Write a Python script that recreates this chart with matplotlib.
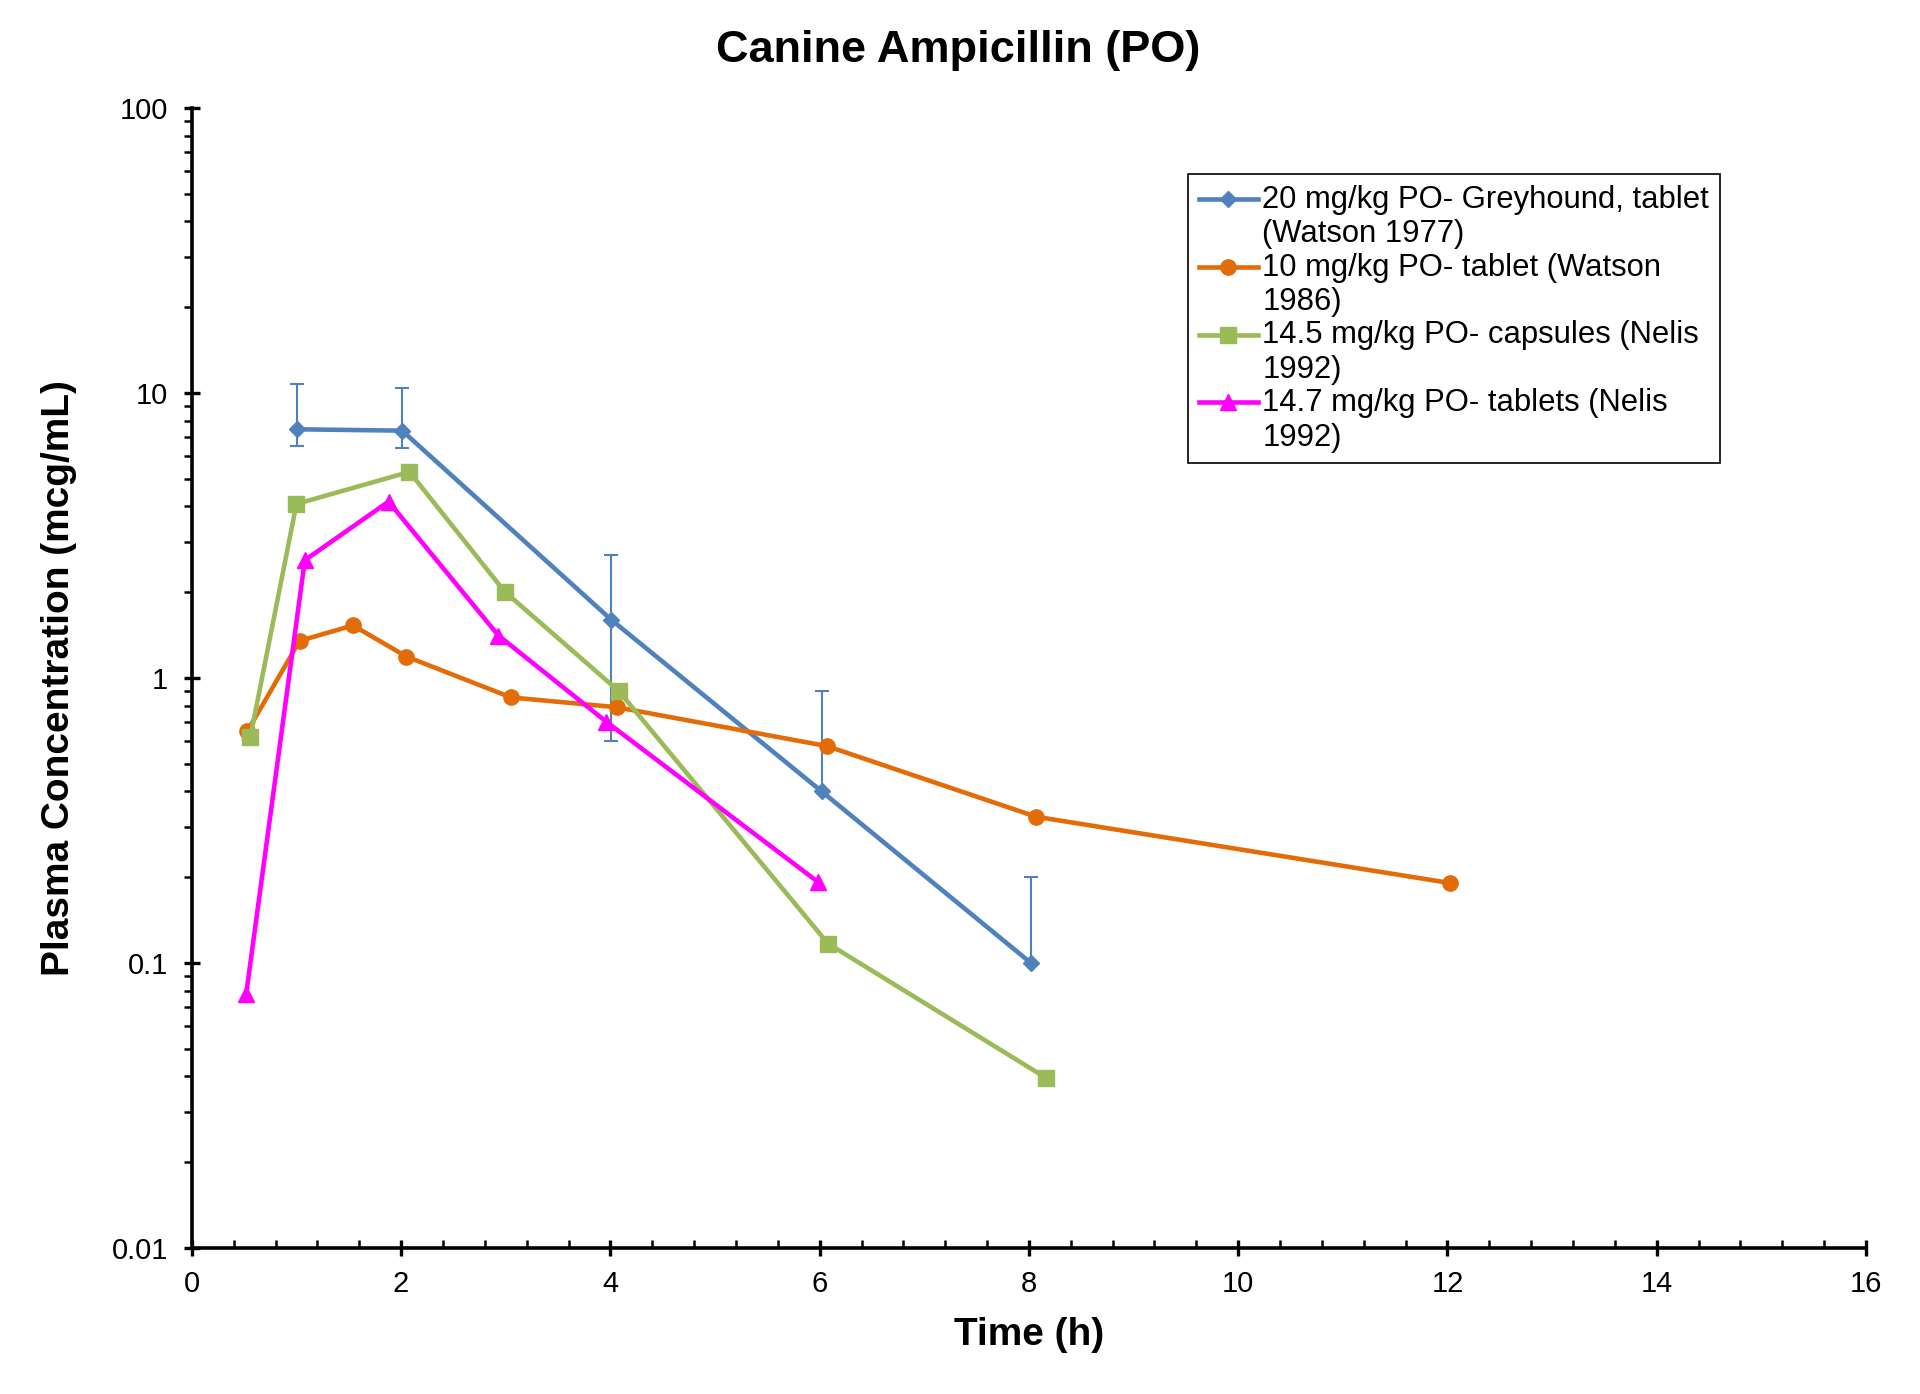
import numpy as np
import matplotlib
matplotlib.use('Agg')
import matplotlib.pyplot as plt
from matplotlib.ticker import MultipleLocator, LogLocator, FixedLocator, FuncFormatter, NullFormatter
from matplotlib.legend_handler import HandlerLine2D

plt.rcParams['font.family'] = ['Liberation Sans', 'DejaVu Sans']

# --- data ---
grey_t = [1.01, 2.01, 4.01, 6.02, 8.02]
grey_c = [7.46, 7.38, 1.60, 0.40, 0.10]
grey_hi = [10.8, 10.4, 2.70, 0.90, 0.20]
grey_lo = [6.52, 6.40, 0.60, 0.40, 0.10]

w86_t = [0.53, 1.03, 1.54, 2.05, 3.05, 4.06, 6.07, 8.07, 12.02]
w86_c = [0.65, 1.35, 1.53, 1.19, 0.855, 0.79, 0.577, 0.326, 0.191]

caps_t = [0.56, 1.00, 2.08, 2.99, 4.08, 6.08, 8.16]
caps_c = [0.622, 4.08, 5.29, 2.01, 0.90, 0.117, 0.0396]

tabs_t = [0.52, 1.08, 1.88, 2.93, 3.96, 5.98]
tabs_c = [0.078, 2.59, 4.16, 1.41, 0.703, 0.193]

labels = ['20 mg/kg PO- Greyhound, tablet\n(Watson 1977)',
          '10 mg/kg PO- tablet (Watson\n1986)',
          '14.5 mg/kg PO- capsules (Nelis\n1992)',
          '14.7 mg/kg PO- tablets (Nelis\n1992)']
colors = ['#4F81BD', '#E36C09', '#9BBB59', '#FF00FF']


class FirstLineHandler(HandlerLine2D):
    # put the legend marker on the first line of a two-line label
    def create_artists(self, legend, orig_handle, xdescent, ydescent,
                       width, height, fontsize, trans):
        arts = super().create_artists(legend, orig_handle, xdescent, ydescent,
                                      width, height, fontsize, trans)
        for a in arts:
            a.set_ydata(np.asarray(a.get_ydata()) + 0.6 * fontsize)
        return arts


fig = plt.figure(figsize=(19.2, 13.94), dpi=100)
ax = fig.add_axes([0.0999, 0.1047, 0.872, 0.8178])

# error bars (only upper part for the last two points)
ax.vlines(grey_t, grey_lo, grey_hi, color=colors[0], lw=1.5, zorder=2)
ax.plot(grey_t, grey_hi, ls='none', marker='_', ms=9.5, mew=1.5,
        color=colors[0], zorder=2)
lo_t = [t for t, lo, c in zip(grey_t, grey_lo, grey_c) if lo < c]
lo_v = [lo for lo, c in zip(grey_lo, grey_c) if lo < c]
ax.plot(lo_t, lo_v, ls='none', marker='_', ms=9.5, mew=1.5,
        color=colors[0], zorder=2)

lw = 3.3
h1, = ax.plot(grey_t, grey_c, color=colors[0], lw=lw, marker='D', ms=8.5, zorder=3)
h2, = ax.plot(w86_t, w86_c, color=colors[1], lw=lw, marker='o', ms=11, zorder=3)
h3, = ax.plot(caps_t, caps_c, color=colors[2], lw=lw, marker='s', ms=11, zorder=3)
h4, = ax.plot(tabs_t, tabs_c, color=colors[3], lw=lw, marker='^', ms=12, zorder=3)

ax.set_yscale('log')
ax.set_xlim(0, 16)
ax.set_ylim(0.01, 100)

ax.xaxis.set_major_locator(MultipleLocator(2))
ax.xaxis.set_minor_locator(MultipleLocator(0.4))
ax.yaxis.set_major_locator(FixedLocator([0.01, 0.1, 1, 10, 100]))
ax.yaxis.set_minor_locator(LogLocator(base=10, subs=np.arange(2, 10)))
ax.yaxis.set_major_formatter(FuncFormatter(lambda v, p: '%g' % v))
ax.yaxis.set_minor_formatter(NullFormatter())

for s in ('top', 'right'):
    ax.spines[s].set_visible(False)
for s in ('left', 'bottom'):
    ax.spines[s].set_linewidth(2.6)

ax.tick_params(axis='both', which='major', direction='inout', length=12,
               width=2.4, labelsize=21)
ax.tick_params(axis='x', which='major', pad=10)
ax.tick_params(axis='y', which='major', pad=11)
ax.tick_params(axis='x', which='minor', direction='in', length=6, width=1.8)
ax.tick_params(axis='y', which='minor', direction='out', length=6, width=1.8)

ax.set_xlabel('Time (h)', fontsize=28, fontweight='bold', va='center')
ax.xaxis.set_label_coords(0.5, -0.0765)
ax.set_ylabel('Plasma Concentration (mcg/mL)', fontsize=28, fontweight='bold', va='center')
ax.yaxis.set_label_coords(-0.0793, 0.5)

fig.text(0.4988, 0.9635, 'Canine Ampicillin (PO)', fontsize=32.5, fontweight='bold',
         ha='center', va='center')

leg = ax.legend([h1, h2, h3, h4], labels, loc='upper left',
                bbox_to_anchor=(1188 / 1920, 1 - 174 / 1394),
                bbox_transform=fig.transFigure, borderaxespad=0,
                fontsize=22.3, frameon=True, fancybox=False, edgecolor='black',
                framealpha=1, borderpad=0.35, handlelength=1.9,
                handletextpad=0.15, labelspacing=0.1,
                handler_map={h: FirstLineHandler() for h in (h1, h2, h3, h4)})
leg.get_frame().set_linewidth(1.2)

fig.savefig('out.png', dpi=100)
